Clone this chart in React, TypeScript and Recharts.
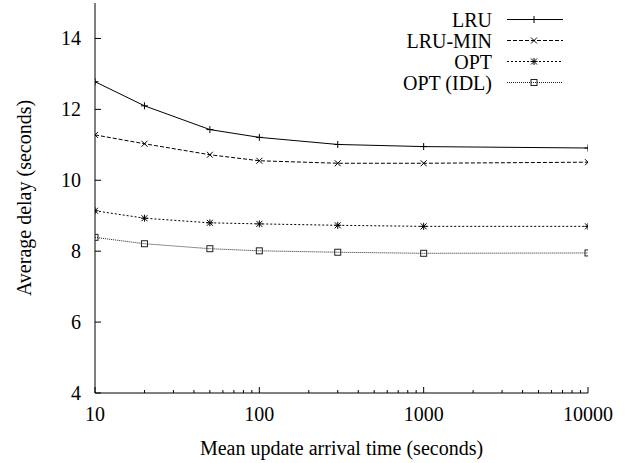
import React from 'react';
import { LineChart, Line, XAxis, YAxis, Legend } from 'recharts';

const xValues = [10, 20, 50, 100, 300, 1000, 10000];
const lruValues = [12.78, 12.1, 11.43, 11.21, 11.01, 10.95, 10.91];
const lruMinValues = [11.28, 11.03, 10.72, 10.55, 10.48, 10.48, 10.51];
const optValues = [9.14, 8.93, 8.8, 8.77, 8.73, 8.7, 8.7];
const optIdlValues = [8.39, 8.21, 8.07, 8.01, 7.97, 7.94, 7.95];

const xTicks = [10, 20, 30, 40, 50, 60, 70, 80, 90, 100, 200, 300, 400, 500, 600, 700, 800, 900, 1000, 2000, 3000, 4000, 5000, 6000, 7000, 8000, 9000, 10000];
const xMajorTicks = [10, 100, 1000, 10000];
const yTicks = [4, 6, 8, 10, 12, 14];

const seriesNames = { lru: 'LRU', lruMin: 'LRU-MIN', opt: 'OPT', optIdl: 'OPT (IDL)' };

const data = xValues.map((x, i) => ({
  x,
  lru: lruValues[i],
  lruMin: lruMinValues[i],
  opt: optValues[i],
  optIdl: optIdlValues[i],
}));

const FONT = '"Liberation Serif", "Times New Roman", serif';

type Shape = 'plus' | 'cross' | 'star' | 'square';

const styles: Record<string, { dash?: string; shape: Shape; color: string }> = {
  lru: { shape: 'plus', color: '#000' },
  lruMin: { dash: '4 2', shape: 'cross', color: '#000' },
  opt: { dash: '2 2', shape: 'star', color: '#000' },
  optIdl: { dash: '1 1', shape: 'square', color: '#222' },
};

function Marker({ cx, cy, shape, color }: { cx: number; cy: number; shape: Shape; color: string }) {
  const h = 3.5;
  const d = 3;
  if (shape === 'plus') {
    return (
      <g stroke={color} strokeWidth={1}>
        <line x1={cx - h} x2={cx + h} y1={cy} y2={cy} />
        <line x1={cx} x2={cx} y1={cy - h} y2={cy + h} />
      </g>
    );
  }
  if (shape === 'cross') {
    return (
      <g stroke={color} strokeWidth={1}>
        <line x1={cx - d} x2={cx + d} y1={cy - d} y2={cy + d} />
        <line x1={cx - d} x2={cx + d} y1={cy + d} y2={cy - d} />
      </g>
    );
  }
  if (shape === 'star') {
    return (
      <g stroke={color} strokeWidth={1}>
        <line x1={cx - d} x2={cx + d} y1={cy - d} y2={cy + d} />
        <line x1={cx - d} x2={cx + d} y1={cy + d} y2={cy - d} />
        <line x1={cx - h} x2={cx + h} y1={cy} y2={cy} />
        <line x1={cx} x2={cx} y1={cy - h} y2={cy + h} />
      </g>
    );
  }
  return <rect x={cx - 3} y={cy - 3} width={6} height={6} fill="none" stroke={color} strokeWidth={1} />;
}

const makeDot = (key: string) => (p: any) => {
  if (p.cx == null || p.cy == null) return <g key={`${key}-${p.index}`} />;
  return (
    <g key={`${key}-${p.index}`}>
      <Marker cx={p.cx} cy={p.cy} shape={styles[key].shape} color={styles[key].color} />
    </g>
  );
};

const BottomTick = (p: any) => {
  const v = p.payload.value;
  const major = xMajorTicks.includes(v);
  return (
    <g>
      <line x1={p.x} x2={p.x} y1={p.y} y2={p.y - (major ? 6 : 3)} stroke="#000" strokeWidth={1} />
      {major && (
        <text x={p.x} y={p.y + 28} textAnchor="middle" fontFamily={FONT} fontSize={20} fill="#000">
          {v}
        </text>
      )}
    </g>
  );
};

const TopTick = (p: any) => {
  const v = p.payload.value;
  const major = xMajorTicks.includes(v);
  return <line x1={p.x} x2={p.x} y1={p.y} y2={p.y + (major ? 6 : 3)} stroke="#000" strokeWidth={1} />;
};

const LeftTick = (p: any) => {
  const v = p.payload.value;
  return (
    <g>
      <line x1={p.x} x2={p.x + 6} y1={p.y} y2={p.y} stroke="#000" strokeWidth={1} />
      <text x={p.x - 14} y={p.y + 7} textAnchor="end" fontFamily={FONT} fontSize={20} fill="#000">
        {v}
      </text>
    </g>
  );
};

const RightTick = (p: any) => (
  <line x1={p.x} x2={p.x - 6} y1={p.y} y2={p.y} stroke="#000" strokeWidth={1} />
);

const renderLegend = (props: any) => {
  const payload = props.payload || [];
  return (
    <svg width={251} height={100}>
      {payload.map((entry: any, i: number) => {
        const key = entry.dataKey as string;
        const st = styles[key];
        const y = 19.5 + i * 21;
        return (
          <g key={key}>
            <text x={112} y={y + 7} textAnchor="end" fontFamily={FONT} fontSize={20} fill="#000">
              {entry.value}
            </text>
            <line x1={127} x2={183} y1={y} y2={y} stroke={st.color} strokeWidth={1} strokeDasharray={st.dash} />
            <Marker cx={154} cy={y} shape={st.shape} color={st.color} />
          </g>
        );
      })}
    </svg>
  );
};

export default function App() {
  return (
    <div style={{ position: 'absolute', left: 0, top: 0, background: '#fff' }}>
      <LineChart width={631} height={463} data={data} margin={{ top: 3, right: 43, bottom: 0, left: 0 }}>
        <XAxis
          dataKey="x"
          type="number"
          scale="log"
          domain={[10, 10000]}
          allowDataOverflow
          ticks={xTicks}
          interval={0}
          height={70}
          tickSize={0}
          tickMargin={0}
          tickLine={false}
          tick={BottomTick}
          axisLine={{ stroke: '#000', strokeWidth: 1 }}
          label={{
            value: 'Mean update arrival time (seconds)',
            position: 'insideBottom',
            offset: 8,
            style: { fontFamily: FONT, fontSize: 20, fill: '#000' },
          }}
        />
        <XAxis
          xAxisId="top"
          orientation="top"
          dataKey="x"
          type="number"
          scale="log"
          domain={[10, 10000]}
          allowDataOverflow
          ticks={xTicks}
          interval={0}
          height={0}
          tickSize={0}
          tickMargin={0}
          tickLine={false}
          tick={TopTick}
          axisLine={{ stroke: '#000', strokeWidth: 1 }}
        />
        <YAxis
          type="number"
          domain={[4, 15]}
          allowDataOverflow
          ticks={yTicks}
          interval={0}
          width={95}
          tickSize={0}
          tickMargin={0}
          tickLine={false}
          tick={LeftTick}
          axisLine={{ stroke: '#000', strokeWidth: 1 }}
          label={{
            value: 'Average delay (seconds)',
            angle: -90,
            position: 'insideLeft',
            offset: 24,
            style: { fontFamily: FONT, fontSize: 20, fill: '#000', textAnchor: 'middle' },
          }}
        />
        <YAxis
          yAxisId="right"
          orientation="right"
          type="number"
          domain={[4, 15]}
          allowDataOverflow
          ticks={yTicks}
          interval={0}
          width={0}
          tickSize={0}
          tickMargin={0}
          tickLine={false}
          tick={RightTick}
          axisLine={{ stroke: '#000', strokeWidth: 1 }}
        />
        <Legend
          layout="vertical"
          align="center"
          verticalAlign="middle"
          content={renderLegend}
          wrapperStyle={{ position: 'absolute', left: 380, top: 0, width: 251, height: 100 }}
        />
        {(['lru', 'lruMin', 'opt', 'optIdl'] as const).map((key) => (
          <Line
            key={key}
            dataKey={key}
            name={seriesNames[key]}
            type="linear"
            stroke={styles[key].color}
            strokeWidth={1}
            strokeDasharray={styles[key].dash}
            dot={makeDot(key)}
            activeDot={false}
            isAnimationActive={false}
          />
        ))}
      </LineChart>
    </div>
  );
}
